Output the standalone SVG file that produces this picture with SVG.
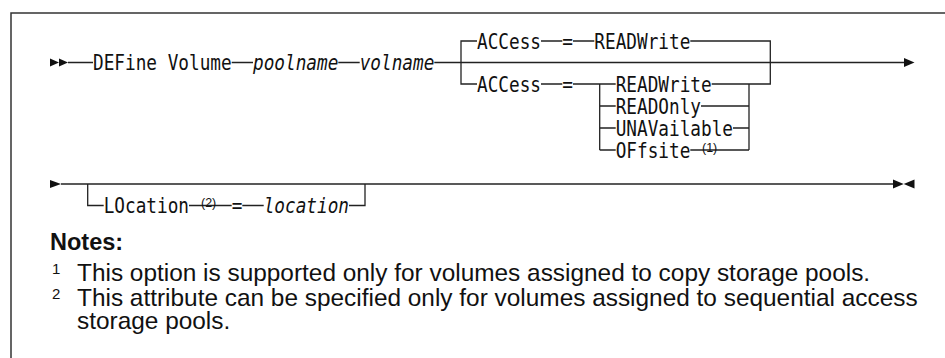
<svg xmlns="http://www.w3.org/2000/svg" width="945" height="358" viewBox="0 0 945 358">
<style>
.m{font-family:"DejaVu Sans Mono","Liberation Mono",monospace;font-size:21px;fill:#111}
.i{font-style:italic}
.sup{font-family:"Liberation Sans",Arial,sans-serif;font-size:12.5px;fill:#111}
.note{font-family:"Liberation Sans",Arial,sans-serif;font-size:24.4px;fill:#111}
.nsup{font-family:"Liberation Sans",Arial,sans-serif;font-size:15px;fill:#111}
.ln{fill:none;stroke:#222;stroke-width:1.3}
.ah{fill:#111}
.frame{fill:none;stroke:#333;stroke-width:1.5}
</style>
<rect width="945" height="358" fill="#fff"/>
<path class="frame" d="M11,358 V13 H945"/>
<g id="connectors">
<polygon class="ah" points="50,58.5 59,62.5 50,66.5"/>
<polygon class="ah" points="59,58.5 68,62.5 59,66.5"/>
<path class="ln" d="M68,62.5 H93 M231.7,62.5 H253 M338.3,62.5 H359.7 M434.3,62.5 H904"/>
<polygon class="ah" points="904,58 914.5,62.5 904,67"/>
<path class="ln" d="M477,41 H461 V84 H477"/>
<path class="ln" d="M541,41 H562.3 M573,41 H594.3 M690.3,41 H770.3 V84 H711.7"/>
<path class="ln" d="M541,84 H562.3 M573,84 H615.7 M599.7,84 V150 M599.7,106 H615.7 M599.7,128 H615.7 M599.7,150 H615.7"/>
<path class="ln" d="M701,106 H749 M733,128 H749 M690.3,150 H749 M749,84 V150"/>
<polygon class="ah" points="50,180 61,184 50,188"/>
<path class="ln" d="M61,184 H893"/>
<polygon class="ah" points="893,179.5 903.7,184 893,188.5"/>
<polygon class="ah" points="914.5,179.5 903.7,184 914.5,188.5"/>
<path class="ln" d="M87.7,184 V205.5 H103.7 M189,205.5 H231.7 M242.3,205.5 H263.7 M349,205.5 H365 V184"/>
</g>
<g id="n-define"><text class="m" transform="translate(93,70) scale(0.844,1)">DEFine Volume</text></g>
<g id="n-poolname"><text class="m i" transform="translate(253,70) scale(0.844,1)">poolname</text></g>
<g id="n-volname"><text class="m i" transform="translate(359.7,70) scale(0.844,1)">volname</text></g>
<g id="n-access-default">
<text class="m" transform="translate(477,48.6) scale(0.844,1)">ACCess</text>
<text class="m" transform="translate(562.3,48.6) scale(0.844,1)">=</text>
<text class="m" transform="translate(594.3,48.6) scale(0.844,1)">READWrite</text>
</g>
<g id="n-access">
<text class="m" transform="translate(477,91.6) scale(0.844,1)">ACCess</text>
<text class="m" transform="translate(562.3,91.6) scale(0.844,1)">=</text>
</g>
<g id="n-readwrite"><text class="m" transform="translate(615.7,91.6) scale(0.844,1)">READWrite</text></g>
<g id="n-readonly"><text class="m" transform="translate(615.7,113.6) scale(0.844,1)">READOnly</text></g>
<g id="n-unavailable"><text class="m" transform="translate(615.7,135.6) scale(0.844,1)">UNAVailable</text></g>
<g id="n-offsite"><text class="m" transform="translate(615.7,157.6) scale(0.844,1)">OFfsite</text><text class="sup" x="702" y="152">(1)</text></g>
<g id="n-location">
<text class="m" transform="translate(103.7,213) scale(0.844,1)">LOcation</text>
<text class="sup" x="201" y="207">(2)</text>
<text class="m" transform="translate(231.7,213) scale(0.844,1)">=</text>
<text class="m i" transform="translate(263.7,213) scale(0.844,1)">location</text>
</g>
<g id="notes">
<text x="50" y="250" style="font-family:'Liberation Sans',Arial,sans-serif;font-size:23.5px;font-weight:bold;fill:#111">Notes:</text>
<text class="nsup" x="52" y="274">1</text>
<text class="note" x="77" y="281">This option is supported only for volumes assigned to copy storage pools.</text>
<text class="nsup" x="52" y="299">2</text>
<text class="note" x="77" y="306">This attribute can be specified only for volumes assigned to sequential access</text>
<text class="note" x="77" y="329">storage pools.</text>
</g>
</svg>
